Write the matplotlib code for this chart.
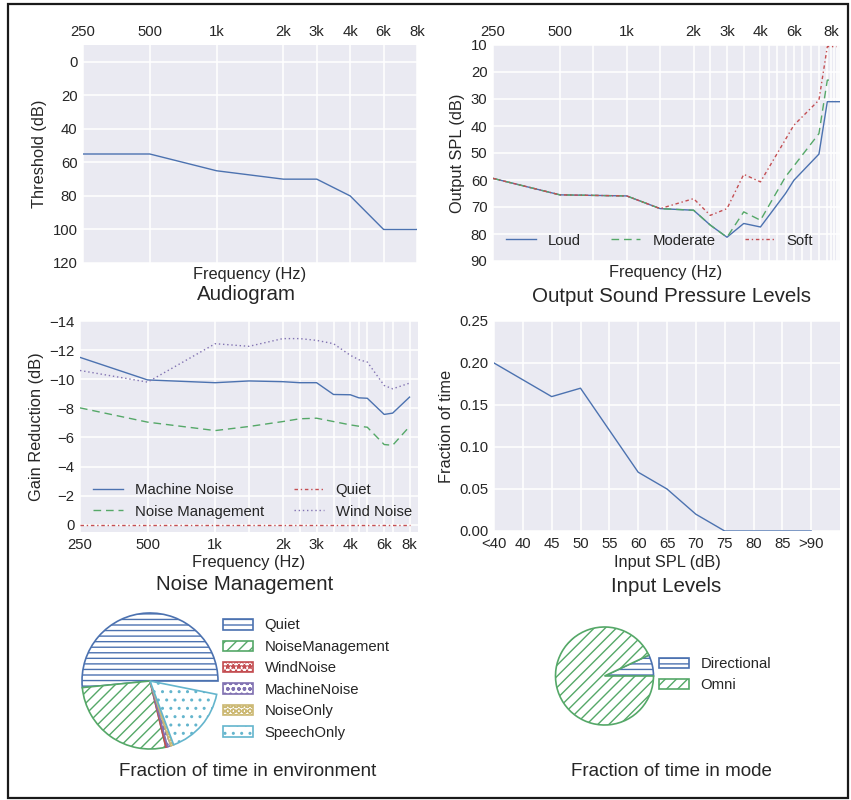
import matplotlib.pyplot as plt
import matplotlib.patches as mpatches
from matplotlib.ticker import NullLocator

plt.rcParams['font.family'] = ['Liberation Sans', 'DejaVu Sans']
plt.rcParams['axes.facecolor'] = '#EAEAF2'
plt.rcParams['axes.edgecolor'] = 'white'
plt.rcParams['axes.linewidth'] = 0
plt.rcParams['grid.color'] = 'white'
plt.rcParams['grid.linewidth'] = 1.1
plt.rcParams['xtick.major.size'] = 0
plt.rcParams['ytick.major.size'] = 0
plt.rcParams['xtick.major.pad'] = 4
plt.rcParams['ytick.major.pad'] = 4
plt.rcParams['xtick.labelsize'] = 10.7
plt.rcParams['ytick.labelsize'] = 10.7
plt.rcParams['xtick.color'] = '#262626'
plt.rcParams['ytick.color'] = '#262626'
plt.rcParams['text.color'] = '#262626'
plt.rcParams['axes.labelcolor'] = '#262626'
plt.rcParams['legend.fontsize'] = 10.7
plt.rcParams['legend.frameon'] = False

W, H = 851, 800
LABEL_FS = 11.8
TITLE_FS = 14.8
PIE_TITLE_FS = 13.5

BLUE, GREEN, RED = '#4C72B0', '#55A868', '#C44E52'
PURPLE, YELLOW, CYAN = '#8172B2', '#CCB974', '#64B5CD'

# ---- audiogram ----
aud_freq = [250, 500, 1000, 2000, 2828, 4000, 5657, 8000]
aud_thresh = [55, 55, 65, 70, 70, 80, 100, 100]
aud_labels = ['250', '500', '1k', '2k', '3k', '4k', '6k', '8k']

# ---- output sound pressure levels ----
ospl_grid = [250, 500, 707, 1000, 1414, 2000, 2378, 2828, 3364, 4000, 4362,
             4757, 5187, 5657, 6169, 6727, 7336, 8000, 8300, 8550, 8800, 9050]
ospl_tick_freq = [250, 500, 1000, 2000, 2828, 4000, 5657, 8300]
loud_freq = [250, 500, 1000, 1414, 2000, 2378, 2828, 3364, 4000, 5187, 5657,
             7336, 8000, 9125]
loud_spl = [59.4, 65.5, 65.9, 70.6, 71.2, 76.7, 81.2, 76.1, 77.4, 65.0, 60.1,
            50.4, 31.0, 31.0]
moderate_freq = [250, 500, 1000, 1414, 2000, 2378, 2828, 3364, 4000, 5187,
                 7336, 8000, 8550]
moderate_spl = [59.4, 65.5, 65.9, 70.6, 71.2, 76.7, 81.2, 71.8, 74.9, 58.8,
                42.8, 23.0, 23.0]
soft_freq = [250, 500, 1000, 1414, 2000, 2378, 2828, 3364, 4000, 5657, 7336,
             8000, 8800]
soft_spl = [59.4, 65.5, 65.9, 70.6, 66.9, 73.1, 70.6, 57.9, 60.7, 39.7, 30.4,
            10.6, 10.6]

# ---- noise management ----
nm_freq = [250, 500, 1000, 1414, 2000, 2378, 2828, 3364, 4000, 4362, 4757,
           5657, 6169, 7336]
nm_tick_freq = [250, 500, 1000, 2000, 2828, 4000, 5657, 7336]
machine_noise = [-11.5, -9.95, -9.76, -9.88, -9.83, -9.76, -9.76, -8.95, -8.93,
                 -8.72, -8.69, -7.58, -7.67, -8.77]
noise_mgmt = [-8.03, -7.05, -6.47, -6.75, -7.09, -7.28, -7.32, -7.09, -6.86,
              -6.77, -6.7, -5.51, -5.46, -6.75]
quiet = [0.0] * 14
wind_noise = [-10.6, -9.8, -12.44, -12.26, -12.79, -12.79, -12.67, -12.44,
              -11.64, -11.34, -11.18, -9.57, -9.34, -9.73]

# ---- input levels ----
input_labels = ['<40', '40', '45', '50', '55', '60', '65', '70', '75', '80',
                '85', '>90']
input_frac = [0.20, 0.18, 0.16, 0.17, 0.12, 0.07, 0.05, 0.02, 0.0, 0.0, 0.0, 0.0]

# ---- environments / modes ----
env_names = ['Quiet', 'NoiseManagement', 'WindNoise', 'MachineNoise',
             'NoiseOnly', 'SpeechOnly']
env_frac = [0.5155, 0.272, 0.004, 0.008, 0.007, 0.162]
env_colors = [BLUE, GREEN, RED, PURPLE, YELLOW, CYAN]
env_hatches = ['---', '///', '***', 'ooo', 'OOO', '..']

mode_names = ['Directional', 'Omni']
mode_frac = [0.07, 0.93]
mode_colors = [BLUE, GREEN]
mode_hatches = ['---', '///']


def box(x0, y0, x1, y1):
    return [x0 / W, 1 - y1 / H, (x1 - x0) / W, (y1 - y0) / H]


def freq_axis(ax, grid, tick_freq, labels, lo, hi):
    ax.set_xscale('log', base=2)
    ax.set_xlim(lo, hi)
    ax.set_xticks(grid)
    ax.set_xticklabels([labels[tick_freq.index(f)] if f in tick_freq else ''
                        for f in grid])
    ax.xaxis.set_minor_locator(NullLocator())


def caption(x, y, s, size):
    fig.text(x / W, 1 - y / H, s, ha='center', va='center', fontsize=size)


fig = plt.figure(figsize=(W / 100, H / 100), dpi=100)
fig.patches.append(mpatches.Rectangle((8 / W, 2 / H), 840 / W, 794 / H,
                                      transform=fig.transFigure, fill=False,
                                      edgecolor='#1a1a1a', linewidth=1.6))

# Audiogram
ax = fig.add_axes(box(83, 45, 417, 263))
ax.plot(aud_freq, aud_thresh, color=BLUE, lw=1.0)
freq_axis(ax, aud_freq, aud_freq, aud_labels, 250, 8000)
ax.xaxis.tick_top()
ax.set_ylim(120, -10)
ax.set_yticks(range(0, 121, 20))
ax.grid(True)
ax.set_axisbelow(True)
ax.set_ylabel('Threshold (dB)', fontsize=LABEL_FS)
caption(250, 275, 'Frequency (Hz)', LABEL_FS)
caption(246, 295, 'Audiogram', TITLE_FS)

# Output SPL
ax = fig.add_axes(box(493, 45, 840, 261))
ax.plot(loud_freq, loud_spl, color=BLUE, lw=1.0, label='Loud')
ax.plot(moderate_freq, moderate_spl, color=GREEN, lw=1.0, dashes=(5.5, 3.5),
        label='Moderate')
ax.plot(soft_freq, soft_spl, color=RED, lw=1.0, dashes=(2.5, 2, 1, 2),
        label='Soft')
freq_axis(ax, ospl_grid, ospl_tick_freq, aud_labels, 250, 9125)
ax.xaxis.tick_top()
ax.set_ylim(90, 10)
ax.set_yticks(range(10, 91, 10))
ax.grid(True)
ax.set_axisbelow(True)
ax.set_ylabel('Output SPL (dB)', fontsize=LABEL_FS)
ax.legend(loc='lower left', ncol=3)
caption(666, 273, 'Frequency (Hz)', LABEL_FS)
caption(672, 296, 'Output Sound Pressure Levels', TITLE_FS)

# Noise management
ax = fig.add_axes(box(80, 321, 418, 532))
ax.plot(nm_freq, machine_noise, color=BLUE, lw=1.0, label='Machine Noise')
ax.plot(nm_freq, noise_mgmt, color=GREEN, lw=1.0, dashes=(5.5, 3.5),
        label='Noise Management')
ax.plot(nm_freq, quiet, color=RED, lw=1.0, dashes=(2.5, 2, 1, 2),
        label='Quiet')
ax.plot(nm_freq, wind_noise, color=PURPLE, lw=1.0, dashes=(1, 2),
        label='Wind Noise')
freq_axis(ax, nm_freq, nm_tick_freq, aud_labels, 250, 8000)
ax.set_ylim(0.5, -14)
ax.set_yticks(range(-14, 1, 2))
ax.grid(True)
ax.set_axisbelow(True)
ax.set_ylabel('Gain Reduction (dB)', fontsize=LABEL_FS)
ax.legend(loc='lower left', ncol=2)
caption(249, 562, 'Frequency (Hz)', LABEL_FS)
caption(245, 585, 'Noise Management', TITLE_FS)

# Input levels
ax = fig.add_axes(box(494, 321, 840, 531))
ax.plot(range(len(input_frac)), input_frac, color=BLUE, lw=1.0)
ax.set_xlim(0, 12)
ax.set_xticks(range(len(input_labels)))
ax.set_xticklabels(input_labels)
ax.set_ylim(0, 0.25)
ax.set_yticks([0, 0.05, 0.10, 0.15, 0.20, 0.25])
ax.set_yticklabels(['0.00', '0.05', '0.10', '0.15', '0.20', '0.25'])
ax.grid(True)
ax.set_axisbelow(True)
ax.set_ylabel('Fraction of time', fontsize=LABEL_FS)
caption(667, 562, 'Input SPL (dB)', LABEL_FS)
caption(666, 586, 'Input Levels', TITLE_FS)


def hatched_pie(rect, fracs, names, colors, hatches, anchor):
    pax = fig.add_axes(box(*rect))
    wedges, _ = pax.pie(fracs, normalize=False)
    for w, c, h in zip(wedges, colors, hatches):
        w.set_facecolor('white')
        w.set_edgecolor(c)
        w.set_hatch(h)
        w.set_linewidth(1.2)
    fig.legend(wedges, names, loc='upper left',
               bbox_to_anchor=(anchor[0] / W, 1 - anchor[1] / H),
               borderaxespad=0, borderpad=0)
    return pax


hatched_pie((65, 596, 235, 766), env_frac, env_names, env_colors, env_hatches,
            (223, 618.5))
caption(248, 772, 'Fraction of time in environment', PIE_TITLE_FS)

hatched_pie((543, 614.75, 666, 737.25), mode_frac, mode_names, mode_colors,
            mode_hatches, (659, 657))
caption(671, 771, 'Fraction of time in mode', PIE_TITLE_FS)

fig.savefig('out.png', dpi=100)
